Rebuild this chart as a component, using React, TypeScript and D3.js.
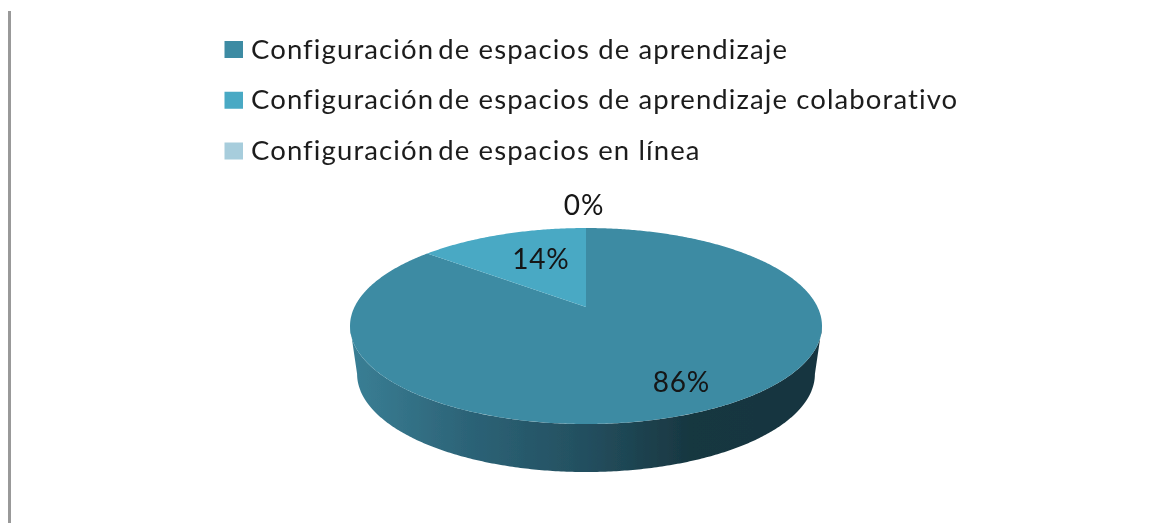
import React from "react";
import * as d3 from "d3";

const categoryLead = "Configuración";
const categoryRest = [
  "de espacios de aprendizaje",
  "de espacios de aprendizaje colaborativo",
  "de espacios en línea",
];
const shares = [86, 14, 0];
const percentLabels = ["86%", "14%", "0%"];
const sliceColors = ["#3c8ba3", "#49a9c4", "#a7cddc"];

const W = 1160;
const H = 523;
const CX = 586;
const APEX_Y = 307;
const RX = 231.5;
const TILT_A = 94.3;
const TILT_P = 0.194;
const DEPTH = 48;
const BOTTOM_SCALE = 0.97;

const labelRadius = [0.76, 0.62, 1.33];
const labelNudge: [number, number][] = [[9, 0], [10, 0], [-2, -2]];

type Pt = [number, number];

const project = (theta: number, r: number, drop = 0, scale = 1): Pt => {
  const u = Math.sin(theta) * r;
  const v = Math.cos(theta) * r;
  const w = 1 + TILT_P * v;
  return [CX + (scale * RX * u) / w, APEX_Y + drop - (TILT_A * v) / w];
};

const arcPoints = (a0: number, a1: number, drop = 0, scale = 1): Pt[] => {
  const n = Math.max(2, Math.ceil(Math.abs(a1 - a0) / 0.01));
  return d3.range(n + 1).map((i) => project(a0 + ((a1 - a0) * i) / n, 1, drop, scale));
};

const line = d3.line<Pt>().curve(d3.curveLinear);
const arcs = d3.pie<number>().sort(null)(shares);

// Silhouette runs between the rim's widest points, which sit just below the apex.
const WIDEST = Math.acos(-TILT_P);

const sidePath = () => {
  const top = arcPoints(WIDEST, Math.PI * 2 - WIDEST);
  const bottom = arcPoints(Math.PI * 2 - WIDEST, WIDEST, DEPTH, BOTTOM_SCALE);
  return line([...top, ...bottom]) + "Z";
};

const slicePath = (a0: number, a1: number) =>
  line([project(0, 0), ...arcPoints(a0, a1)]) + "Z";

const legendY = d3.scalePoint<number>().domain([0, 1, 2]).range([49.5, 151]);

export default function App() {
  return (
    <svg
      width={W}
      height={H}
      viewBox={`0 0 ${W} ${H}`}
      style={{ position: "absolute", left: 0, top: 0, display: "block", background: "#fff" }}
    >
      <defs>
        <linearGradient id="side" gradientUnits="userSpaceOnUse" x1={350} x2={822} y1={0} y2={0}>
          <stop offset="0" stopColor="#3a7f95" />
          <stop offset="0.25" stopColor="#2c6377" />
          <stop offset="0.5" stopColor="#234f5f" />
          <stop offset="0.72" stopColor="#183741" />
          <stop offset="1" stopColor="#17353f" />
        </linearGradient>
        <filter id="soft" x="-5%" y="-5%" width="110%" height="110%">
          <feGaussianBlur stdDeviation="0.55" />
        </filter>
      </defs>
      <g filter="url(#soft)">
        <rect x={8} y={11} width={3} height={H - 11} fill="#999999" />
        {categoryRest.map((c, i) => (
          <g key={c}>
            <rect x={224.5} y={legendY(i)! - 8.5} width={18.5} height={17} fill={sliceColors[i]} />
            <text
              x={251}
              y={legendY(i)! + 9}
              fontFamily="Lato, 'Open Sans', sans-serif"
              fontSize={27.5}
              letterSpacing={1.1}
              fill="#1c1c1c"
            >
              {categoryLead}
              <tspan dx={-4}>{" " + c}</tspan>
            </text>
          </g>
        ))}
        <path d={sidePath()} fill="url(#side)" />
        {arcs.map((a, i) =>
          a.endAngle > a.startAngle ? (
            <path key={i} d={slicePath(a.startAngle, a.endAngle)} fill={sliceColors[i]} />
          ) : null
        )}
        {arcs.map((a, i) => {
          const [x, y] = project((a.startAngle + a.endAngle) / 2, labelRadius[i]);
          return (
            <text
              key={i}
              x={x + labelNudge[i][0]}
              y={y + labelNudge[i][1] + 10}
              textAnchor="middle"
              fontFamily="Lato, 'Open Sans', sans-serif"
              fontSize={28}
              letterSpacing={0.8}
              fill="#141414"
            >
              {percentLabels[i]}
            </text>
          );
        })}
      </g>
    </svg>
  );
}
